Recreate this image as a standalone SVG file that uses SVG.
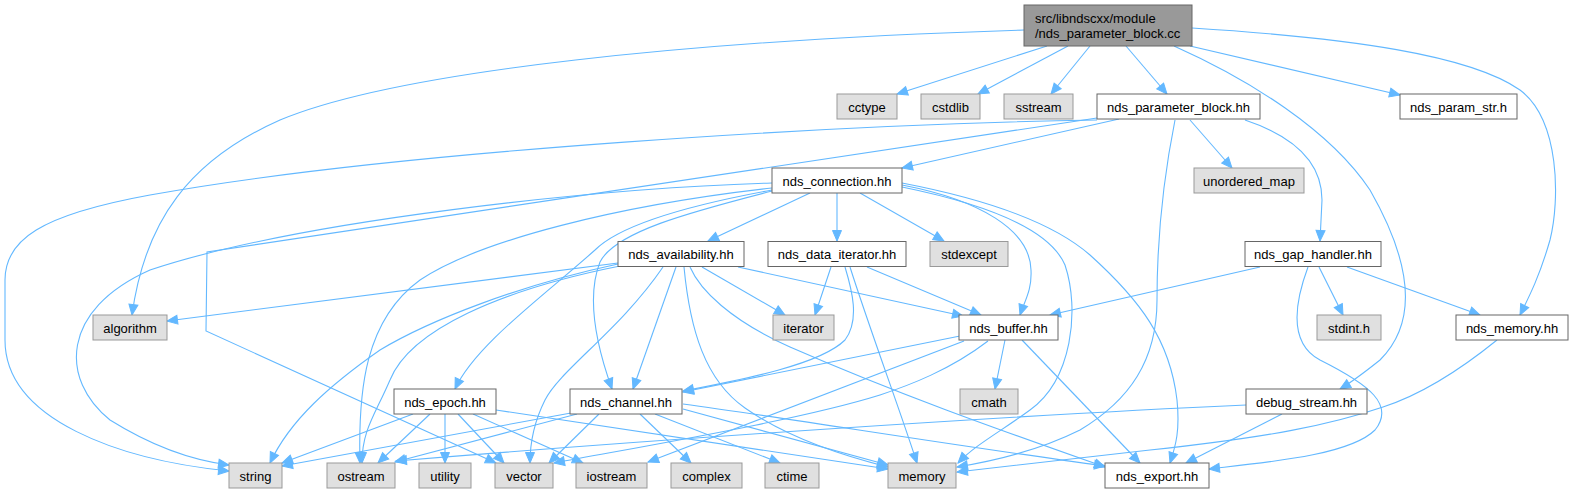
<svg xmlns="http://www.w3.org/2000/svg" width="1574" height="493" viewBox="0 0 1574 493">
<style>
.n rect{fill:#ffffff;stroke:#666666;stroke-width:1}
.x rect{fill:#e0e0e0;stroke:#999999;stroke-width:1}
.r rect{fill:#999999;stroke:#666666;stroke-width:1}
text{font-family:"Liberation Sans",Arial,Helvetica,sans-serif;font-size:13px;fill:#000000;text-anchor:middle}
.r text{text-anchor:start}
#edges path{fill:none;stroke:#63b8ff;stroke-width:1.1;marker-end:url(#a)}
</style>
<defs>
<marker id="a" markerWidth="12" markerHeight="10" refX="10.5" refY="4.5" orient="auto" markerUnits="userSpaceOnUse" overflow="visible">
<path d="M0,0 L10.5,4.5 L0,9 z" fill="#63b8ff" stroke="#63b8ff" stroke-width="1"/>
</marker>
</defs>
<rect width="1574" height="493" fill="#ffffff"/>
<g id="edges">
<path d="M1024,30 C700,40 400,70 280,120 C190,160 145,220 132,315"/>
<path d="M1047,46 L897,94"/>
<path d="M1068,46 L978,94"/>
<path d="M1090,46 L1051,94"/>
<path d="M1126,46 L1167,94"/>
<path d="M1190,46 L1400,95"/>
<path d="M1174,46 C1250,80 1330,130 1370,190 C1410,260 1420,320 1380,360 C1365,372 1355,380 1340,389"/>
<path d="M1192,28 C1350,38 1470,55 1520,90 C1560,120 1560,200 1550,240 C1540,275 1530,295 1520,315"/>
<path d="M1119,119 L902,168"/>
<path d="M1097,120 C850,124 400,150 150,195 C40,215 5,240 5,280 L5,340 C5,420 120,460 229,471"/>
<path d="M1097,118 L207,252 L206,331 L496,463"/>
<path d="M1175,120 C1165,170 1157,230 1157,300 C1157,360 1130,400 1080,430 C1040,450 1000,460 957,467"/>
<path d="M1190,120 L1232,168"/>
<path d="M1245,120 C1290,135 1322,160 1322,200 L1320,241"/>
<path d="M810,193 L708,241"/>
<path d="M837,193 L837,241"/>
<path d="M860,193 L944,241"/>
<path d="M902,185 C980,200 1030,230 1031,270 C1032,290 1025,300 1020,315"/>
<path d="M902,187 C990,205 1050,230 1065,265 C1080,310 1072,380 1030,410 C1000,432 975,445 958,463"/>
<path d="M902,183 C980,198 1050,220 1090,255 C1140,300 1170,340 1177,400 C1180,430 1176,445 1170,463"/>
<path d="M772,183 C600,188 300,220 150,270 C60,310 60,380 110,420 C150,445 190,460 229,465"/>
<path d="M772,188 C620,205 480,240 420,280 C365,320 358,390 360,463"/>
<path d="M772,190 C690,205 620,225 595,250 C545,295 475,345 455,389"/>
<path d="M772,191 C690,212 615,232 600,262 C585,300 598,350 612,389"/>
<path d="M618,263 L167,321"/>
<path d="M702,267 L785,315"/>
<path d="M738,267 L963,316"/>
<path d="M684,267 C690,330 705,380 745,408 C785,436 840,455 888,467"/>
<path d="M690,267 C700,290 730,320 790,347 C900,395 1000,430 1105,467"/>
<path d="M663,267 C620,330 560,370 545,400 C535,420 530,440 530,463"/>
<path d="M676,267 L633,389"/>
<path d="M618,264 C520,285 430,320 380,350 C330,385 290,420 270,463"/>
<path d="M620,266 C500,290 410,330 390,380 C375,415 362,430 362,463"/>
<path d="M831,267 L815,315"/>
<path d="M867,267 L981,315"/>
<path d="M845,267 C852,290 860,320 845,340 C820,365 740,380 683,391"/>
<path d="M850,267 C870,330 900,410 917,463"/>
<path d="M1260,267 L1050,315"/>
<path d="M1319,267 L1343,315"/>
<path d="M1347,267 L1480,315"/>
<path d="M1308,267 C1292,310 1292,345 1320,360 C1370,385 1395,405 1375,430 C1350,455 1270,462 1209,469"/>
<path d="M960,336 L683,392"/>
<path d="M988,341 C950,370 910,385 880,395 C800,420 650,445 554,463"/>
<path d="M964,341 L648,462"/>
<path d="M1005,340 L995,389"/>
<path d="M1022,340 L1140,463"/>
<path d="M1497,340 C1460,370 1420,395 1383,407 C1330,425 1270,437 1150,450 C1060,460 1000,467 957,472"/>
<path d="M1246,405 C1000,416 650,440 396,461"/>
<path d="M1282,414 L1186,463"/>
<path d="M413,414 L282,463"/>
<path d="M430,414 L378,463"/>
<path d="M445,414 L445,463"/>
<path d="M458,414 L504,463"/>
<path d="M473,414 L583,463"/>
<path d="M496,410 L888,469"/>
<path d="M571,413 L282,466"/>
<path d="M577,414 L395,462"/>
<path d="M599,414 L549,463"/>
<path d="M640,414 L691,463"/>
<path d="M655,414 L780,463"/>
<path d="M683,409 L888,465"/>
<path d="M683,404 C800,420 950,445 1105,466"/>
</g>
<g id="root" class="r"><rect x="1024" y="5" width="168" height="41"/><text x="1035" y="23">src/libndscxx/module</text><text x="1035" y="38">/nds_parameter_block.cc</text></g>
<g id="cctype" class="x"><rect x="837" y="94" width="60" height="25"/><text x="867" y="111.5">cctype</text></g>
<g id="cstdlib" class="x"><rect x="921" y="94" width="59" height="25"/><text x="950.5" y="111.5">cstdlib</text></g>
<g id="sstream" class="x"><rect x="1004" y="94" width="69" height="25"/><text x="1038.5" y="111.5">sstream</text></g>
<g id="nds_parameter_block" class="n"><rect x="1097" y="94" width="163" height="25"/><text x="1178.5" y="111.5">nds_parameter_block.hh</text></g>
<g id="nds_param_str" class="n"><rect x="1400" y="94" width="117" height="25"/><text x="1458.5" y="111.5">nds_param_str.h</text></g>
<g id="nds_connection" class="n"><rect x="772" y="168" width="130" height="25"/><text x="837" y="185.5">nds_connection.hh</text></g>
<g id="unordered_map" class="x"><rect x="1194" y="168" width="110" height="25"/><text x="1249" y="185.5">unordered_map</text></g>
<g id="nds_availability" class="n"><rect x="618" y="241.5" width="126" height="25"/><text x="681" y="259">nds_availability.hh</text></g>
<g id="nds_data_iterator" class="n"><rect x="768" y="241.5" width="138" height="25"/><text x="837" y="259">nds_data_iterator.hh</text></g>
<g id="stdexcept" class="x"><rect x="930" y="241.5" width="78" height="25"/><text x="969" y="259">stdexcept</text></g>
<g id="nds_gap_handler" class="n"><rect x="1245" y="241.5" width="136" height="25"/><text x="1313" y="259">nds_gap_handler.hh</text></g>
<g id="algorithm" class="x"><rect x="93" y="315" width="74" height="25"/><text x="130" y="332.5">algorithm</text></g>
<g id="iterator" class="x"><rect x="773" y="315" width="61" height="25"/><text x="803.5" y="332.5">iterator</text></g>
<g id="nds_buffer" class="n"><rect x="959" y="315" width="99" height="25"/><text x="1008.5" y="332.5">nds_buffer.hh</text></g>
<g id="stdint" class="x"><rect x="1317" y="315" width="64" height="25"/><text x="1349" y="332.5">stdint.h</text></g>
<g id="nds_memory" class="n"><rect x="1456" y="315" width="112" height="25"/><text x="1512" y="332.5">nds_memory.hh</text></g>
<g id="nds_epoch" class="n"><rect x="394" y="389" width="102" height="25"/><text x="445" y="406.5">nds_epoch.hh</text></g>
<g id="nds_channel" class="n"><rect x="570" y="389" width="112" height="25"/><text x="626" y="406.5">nds_channel.hh</text></g>
<g id="cmath" class="x"><rect x="960" y="389" width="58" height="25"/><text x="989" y="406.5">cmath</text></g>
<g id="debug_stream" class="n"><rect x="1246" y="389" width="121" height="25"/><text x="1306.5" y="406.5">debug_stream.hh</text></g>
<g id="string" class="x"><rect x="229" y="463" width="53" height="25"/><text x="255.5" y="480.5">string</text></g>
<g id="ostream" class="x"><rect x="327" y="463" width="68" height="25"/><text x="361" y="480.5">ostream</text></g>
<g id="utility" class="x"><rect x="419" y="463" width="52" height="25"/><text x="445" y="480.5">utility</text></g>
<g id="vector" class="x"><rect x="495" y="463" width="58" height="25"/><text x="524" y="480.5">vector</text></g>
<g id="iostream" class="x"><rect x="576" y="463" width="71" height="25"/><text x="611.5" y="480.5">iostream</text></g>
<g id="complex" class="x"><rect x="671" y="463" width="71" height="25"/><text x="706.5" y="480.5">complex</text></g>
<g id="ctime" class="x"><rect x="765" y="463" width="54" height="25"/><text x="792" y="480.5">ctime</text></g>
<g id="memory" class="x"><rect x="888" y="463" width="68" height="25"/><text x="922" y="480.5">memory</text></g>
<g id="nds_export" class="n"><rect x="1105" y="463" width="104" height="25"/><text x="1157" y="480.5">nds_export.hh</text></g>
</svg>
